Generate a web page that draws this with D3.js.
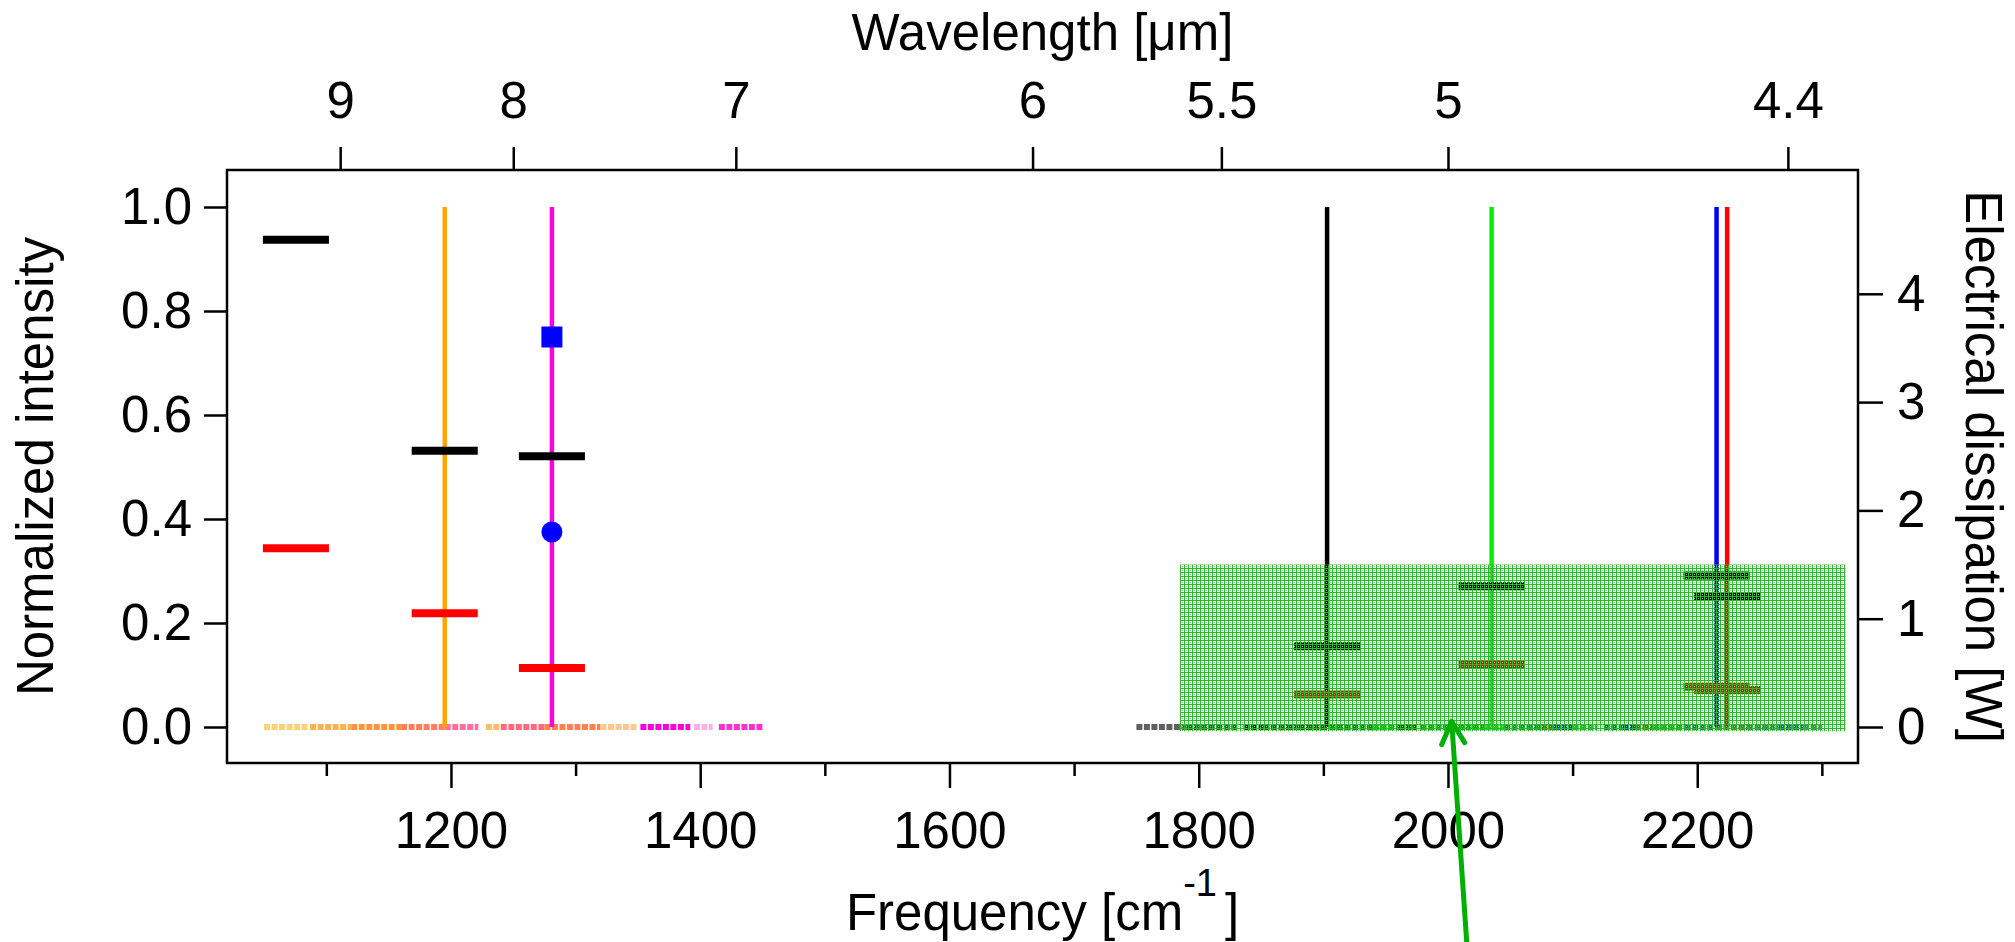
<!DOCTYPE html>
<html>
<head>
<meta charset="utf-8">
<script src="https://cdn.jsdelivr.net/npm/d3@7"></script>
<style>
  html, body { margin: 0; padding: 0; background: #fff; }
  svg { display: block; }
  text { font-family: "Liberation Sans", Arial, Helvetica, sans-serif; fill: #000; }
</style>
</head>
<body>
<svg id="chart" width="2015" height="942"></svg>
<script>
// ---- data ----
// emission lines (frequency in cm^-1), normalized height 1.0
const lineFreqs  = [1195, 1281, 1903, 2035, 2215.5, 2224];
const lineColors = ["#ffa500", "#ff00e0", "#000000", "#00ee00", "#0000ff", "#ff0000"];
const lineHeight = [1.0, 1.0, 1.0, 1.0, 1.0, 1.0];

// dissipation markers (W), one black and one red per device
const barFreqs = [1075.6, 1195, 1281, 1903, 2035, 2215.5, 2224];
const blackBarW = [4.50, 2.55, 2.50, 0.745, 1.30, 1.40, 1.20];
const redBarW   = [1.65, 1.05, 0.545, 0.30, 0.575, 0.372, 0.342];

// blue symbols on the 1281 cm^-1 line (normalized intensity)
const squareFreq = 1281, squareValue = 0.75;
const circleFreq = 1281, circleValue = 0.375;

// shaded band (frequency range and dissipation range in W)
const bandFreq = [1785, 2319];
const bandW = [-0.04, 1.5];

// residual spectra along the baseline: [start, end, colour]
const baseLeft = [
  [1050, 1085, "#ffd27a"], [1087, 1120, "#ffb050"], [1120, 1160, "#ff9440"],
  [1160, 1195, "#ff8060"], [1195, 1222, "#ff70a0"], [1228, 1240, "#ffc060"],
  [1240, 1275, "#ff6a80"], [1275, 1320, "#ff8050"], [1320, 1350, "#ffc890"],
  [1352, 1392, "#ff00d8"], [1395, 1410, "#ffb0e8"], [1415, 1450, "#ff30d0"]
];
const baseRight = [
  [1750, 1790, "#606060"], [1790, 1832, "#4a4a4a"], [1836, 1852, "#1a1a1a"],
  [1852, 1880, "#404040"], [1880, 1903, "#2a4a2a"], [1905, 1940, "#1a7a1a"],
  [1940, 1960, "#00c000"], [1960, 1975, "#0a5a0a"], [1978, 2030, "#00b000"],
  [2030, 2045, "#00e000"], [2045, 2075, "#1a8a5a"], [2075, 2085, "#7a5a10"],
  [2085, 2100, "#1040c0"], [2100, 2120, "#20c020"], [2125, 2140, "#207080"],
  [2140, 2150, "#0030d0"], [2150, 2165, "#806020"], [2165, 2190, "#30a030"],
  [2190, 2215, "#4060a0"], [2215, 2240, "#806050"], [2240, 2265, "#507090"],
  [2265, 2285, "#3050c0"], [2285, 2300, "#6070a0"]
];

// axis ticks
const freqMajor = [1200, 1400, 1600, 1800, 2000, 2200];
const freqMinor = [1100, 1300, 1500, 1700, 1900, 2100, 2300];
const waveTicks = [9, 8, 7, 6, 5.5, 5, 4.4];
const leftTicks = [0, 0.2, 0.4, 0.6, 0.8, 1.0];
const rightTicks = [0, 1, 2, 3, 4];

// annotation arrow tip (frequency, normalized intensity)
const arrowTip = [2003, 0.02];

// ---- layout ----
const frame = { left: 227, right: 1858, top: 170, bottom: 763 };
const svg = d3.select("#chart");

const x = d3.scaleLinear().domain([1020.3, 2329]).range([frame.left, frame.right]);
const yL = d3.scaleLinear().domain([-0.06923, 1.07115]).range([frame.bottom, frame.top]);
const yR = d3.scaleLinear().domain([-0.3324, 5.1431]).range([frame.bottom, frame.top]);

// hatch pattern for the shaded band
const defs = svg.append("defs");
const pat = defs.append("pattern").attr("id", "hatch")
  .attr("patternUnits", "userSpaceOnUse").attr("width", 4).attr("height", 4);
pat.append("rect").attr("x", 0).attr("y", 0).attr("width", 4).attr("height", 1)
  .attr("fill", "#2cb82c");
pat.append("rect").attr("x", 0).attr("y", 1).attr("width", 1).attr("height", 3)
  .attr("fill", "#2cb82c");
pat.append("rect").attr("x", 2).attr("y", 2).attr("width", 1).attr("height", 1)
  .attr("fill", "#7ad27a");

const plot = svg.append("g");

// baseline spectra
function drawBase(segs) {
  plot.append("g").selectAll("line").data(segs).join("line")
    .attr("x1", d => x(d[0])).attr("x2", d => x(d[1]))
    .attr("y1", yL(0)).attr("y2", yL(0))
    .attr("stroke", d => d[2]).attr("stroke-width", 6)
    .attr("stroke-dasharray", "6,1.5");
}
drawBase(baseLeft);
drawBase(baseRight);

// emission lines
plot.append("g").selectAll("line").data(lineFreqs).join("line")
  .attr("x1", d => x(d)).attr("x2", d => x(d))
  .attr("y1", yL(0)).attr("y2", (d, i) => yL(lineHeight[i]))
  .attr("stroke", (d, i) => lineColors[i]).attr("stroke-width", 4.5);

// dissipation markers
const barHalf = 26.5;
function drawBars(vals, color) {
  plot.append("g").selectAll("line").data(barFreqs).join("line")
    .attr("x1", d => x(d - barHalf)).attr("x2", d => x(d + barHalf))
    .attr("y1", (d, i) => yR(vals[i])).attr("y2", (d, i) => yR(vals[i]))
    .attr("stroke", color).attr("stroke-width", 8);
}
drawBars(redBarW, "#ff0000");
drawBars(blackBarW, "#000000");

// blue symbols
plot.append("rect")
  .attr("x", x(squareFreq) - 10.5).attr("y", yL(squareValue) - 10.5)
  .attr("width", 21).attr("height", 21).attr("fill", "#0000ff");
plot.append("circle")
  .attr("cx", x(circleFreq)).attr("cy", yL(circleValue)).attr("r", 10.5)
  .attr("fill", "#0000ff");

// shaded band on top
plot.append("rect")
  .attr("x", x(bandFreq[0])).attr("width", x(bandFreq[1]) - x(bandFreq[0]))
  .attr("y", yR(bandW[1])).attr("height", yR(bandW[0]) - yR(bandW[1]))
  .attr("fill", "url(#hatch)");

// ---- axes ----
const fontSize = 51;
function styleAxis(g) {
  g.select(".domain").remove();
  g.selectAll(".tick line").attr("stroke", "#000").attr("stroke-width", 2.5);
  g.selectAll(".tick text").attr("font-size", fontSize)
    .attr("font-family", "'Liberation Sans', Arial, sans-serif");
}

svg.append("g").attr("transform", `translate(${frame.left},0)`)
  .call(d3.axisLeft(yL).tickValues(leftTicks).tickFormat(d3.format(".1f"))
    .tickSize(23).tickPadding(12))
  .call(styleAxis);

svg.append("g").attr("transform", `translate(${frame.right},0)`)
  .call(d3.axisRight(yR).tickValues(rightTicks).tickFormat(d3.format("d"))
    .tickSize(25).tickPadding(14))
  .call(styleAxis);

svg.append("g").attr("transform", `translate(0,${frame.bottom})`)
  .call(d3.axisBottom(x).tickValues(freqMajor).tickFormat(d3.format("d"))
    .tickSize(25).tickPadding(24))
  .call(styleAxis);

svg.append("g").attr("transform", `translate(0,${frame.bottom})`)
  .call(d3.axisBottom(x).tickValues(freqMinor).tickFormat("").tickSize(13))
  .call(styleAxis);

// wavelength axis on top: position = frequency of 10000/lambda
const xw = d3.scaleLinear().domain(x.domain()).range(x.range());
svg.append("g").attr("transform", `translate(0,${frame.top})`)
  .call(d3.axisTop(xw).tickValues(waveTicks.map(w => 10000 / w))
    .tickFormat((d, i) => String(waveTicks[i])).tickSize(23).tickPadding(29))
  .call(styleAxis);

// frame
svg.append("rect")
  .attr("x", frame.left).attr("y", frame.top)
  .attr("width", frame.right - frame.left).attr("height", frame.bottom - frame.top)
  .attr("fill", "none").attr("stroke", "#000").attr("stroke-width", 2.5);

// ---- axis titles ----
const midX = (frame.left + frame.right) / 2;
const midY = (frame.top + frame.bottom) / 2;

svg.append("text").attr("x", midX).attr("y", 50)
  .attr("text-anchor", "middle").attr("font-size", fontSize)
  .text("Wavelength [μm]");

const ft = svg.append("text").attr("x", midX).attr("y", 930)
  .attr("text-anchor", "middle").attr("font-size", fontSize);
ft.append("tspan").text("Frequency [cm");
ft.append("tspan").attr("font-size", 38).attr("dy", -34).text("-1");
ft.append("tspan").attr("dy", 34).attr("dx", 8).text("]");

svg.append("text")
  .attr("transform", `translate(53,${midY}) rotate(-90)`)
  .attr("text-anchor", "middle").attr("font-size", fontSize)
  .text("Normalized intensity");

svg.append("text")
  .attr("transform", `translate(1966,${midY}) rotate(90)`)
  .attr("text-anchor", "middle").attr("font-size", fontSize)
  .text("Electrical dissipation [W]");

// ---- annotation arrow ----
const tipX = x(arrowTip[0]), tipY = yL(arrowTip[1]) + 5;
const arrow = svg.append("g").attr("stroke", "#00b000").attr("stroke-width", 5)
  .attr("stroke-linecap", "round").attr("fill", "none");
arrow.append("line").attr("x1", tipX).attr("y1", tipY)
  .attr("x2", tipX + 17).attr("y2", tipY + 250);
arrow.append("polyline")
  .attr("points", `${tipX - 10},${tipY + 23} ${tipX},${tipY} ${tipX + 13},${tipY + 21}`)
  .attr("stroke-linejoin", "round");
</script>
</body>
</html>
